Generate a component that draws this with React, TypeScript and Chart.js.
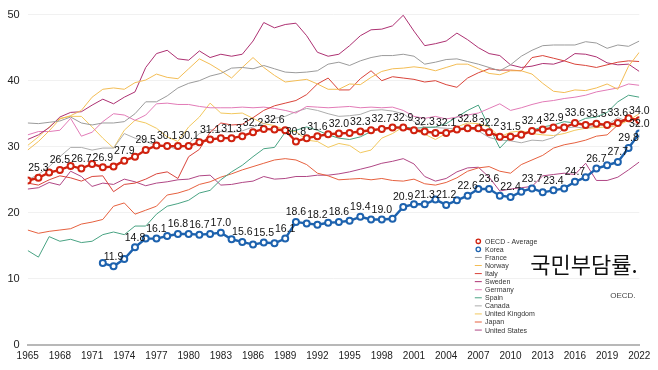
import React, { useEffect, useRef } from 'react';
import { Chart, registerables } from 'chart.js';

Chart.register(...registerables);

// ---- data (tax revenue as % of GDP), 1965..2022 ----
const years: number[] = Array.from({ length: 58 }, (_, i) => 1965 + i);
const xTickYears = [1965, 1968, 1971, 1974, 1977, 1980, 1983, 1986, 1989, 1992, 1995, 1998, 2001, 2004, 2007, 2010, 2013, 2016, 2019, 2022];
const yTickValues = [0, 10, 20, 30, 40, 50];

const oecdAvg = [24.9, 25.3, 26.1, 26.5, 27.1, 26.7, 27.4, 26.9, 27.0, 27.9, 28.5, 29.5, 30.2, 30.1, 30.1, 30.1, 30.7, 31.1, 31.3, 31.3, 31.6, 32.2, 32.7, 32.6, 32.5, 30.8, 31.3, 31.6, 31.9, 32.0, 32.1, 32.3, 32.5, 32.7, 32.9, 32.9, 32.5, 32.3, 32.1, 32.1, 32.6, 32.8, 32.8, 32.2, 31.5, 31.5, 31.8, 32.4, 32.6, 32.9, 32.9, 33.6, 33.3, 33.5, 33.3, 33.6, 34.3, 34.0];
const korea = [null, null, null, null, null, null, null, 12.4, 11.9, 13.0, 14.8, 16.1, 16.1, 16.5, 16.8, 16.8, 16.7, 16.8, 17.0, 16.0, 15.6, 15.2, 15.5, 15.4, 16.1, 18.6, 18.4, 18.2, 18.5, 18.6, 18.8, 19.4, 19.0, 19.0, 19.1, 20.9, 21.3, 21.3, 22.0, 21.2, 21.9, 22.6, 23.6, 23.6, 22.6, 22.4, 23.2, 23.7, 23.1, 23.4, 23.7, 24.7, 25.4, 26.7, 27.2, 27.7, 29.8, 32.0];
const france = [33.6, 33.5, 33.7, 33.9, 34.5, 33.6, 33.3, 33.6, 33.6, 33.8, 35.0, 36.8, 36.8, 37.7, 38.9, 39.6, 40.0, 40.7, 41.1, 41.9, 42.0, 41.8, 42.3, 41.8, 41.3, 41.2, 41.3, 41.5, 42.5, 42.8, 42.3, 43.0, 43.5, 43.8, 43.8, 44.0, 43.7, 42.5, 42.8, 43.2, 43.3, 42.9, 42.5, 42.0, 41.5, 42.4, 43.7, 44.6, 45.3, 45.4, 45.4, 45.4, 45.9, 45.7, 44.9, 45.4, 45.2, 46.0];
const norway = [29.5, 30.8, 32.4, 34.2, 34.7, 35.5, 37.5, 38.7, 38.9, 38.7, 39.7, 40.1, 41.0, 40.5, 40.3, 41.8, 43.3, 42.5, 41.5, 40.4, 42.0, 43.5, 42.0, 40.8, 39.8, 40.0, 40.2, 39.5, 38.7, 38.7, 39.5, 39.4, 40.5, 41.4, 41.8, 41.9, 42.1, 41.9, 41.5, 42.0, 42.5, 42.5, 41.8, 41.1, 40.9, 41.5, 41.5, 41.0, 39.6, 38.4, 38.2, 38.6, 38.5, 38.9, 39.5, 38.7, 42.2, 44.3];
const italy = [24.5, 24.2, 25.0, 25.6, 25.3, 24.8, 25.5, 25.6, 23.2, 24.3, 24.5, 25.1, 25.9, 26.2, 25.2, 28.5, 29.6, 32.2, 33.6, 33.3, 33.4, 34.4, 35.5, 36.2, 36.6, 37.0, 37.9, 39.5, 40.4, 38.6, 38.6, 40.3, 41.5, 40.0, 40.6, 40.4, 40.2, 39.8, 40.0, 39.4, 39.0, 40.4, 41.2, 41.8, 41.6, 41.6, 41.5, 43.5, 43.8, 43.4, 43.0, 42.5, 42.3, 42.0, 42.4, 42.8, 43.0, 42.9];
const sweden = [31.1, 31.8, 32.9, 34.5, 35.2, 35.3, 36.3, 37.2, 36.5, 37.5, 38.3, 42.0, 44.1, 44.6, 43.3, 43.1, 44.5, 43.5, 44.0, 43.7, 44.0, 46.0, 48.8, 48.0, 48.5, 48.7, 46.8, 44.3, 43.7, 44.0, 45.3, 46.8, 47.7, 47.8, 48.3, 49.9, 47.5, 45.3, 45.6, 46.0, 47.2, 46.2, 45.0, 44.1, 43.8, 42.4, 42.0, 42.2, 42.6, 42.5, 43.0, 44.1, 44.0, 43.6, 42.7, 42.4, 42.5, 41.4];
const germany = [31.8, 32.3, 32.3, 32.5, 34.3, 31.6, 32.2, 33.8, 35.0, 34.8, 34.0, 34.8, 36.5, 36.6, 36.4, 36.4, 36.1, 35.9, 35.9, 35.9, 36.0, 35.9, 36.0, 35.8, 35.5, 35.1, 36.1, 36.0, 35.9, 36.0, 36.1, 35.9, 36.0, 35.9, 36.0, 35.5, 34.6, 34.3, 34.6, 34.2, 34.5, 34.8, 35.1, 35.8, 36.5, 35.5, 35.9, 36.4, 36.8, 37.0, 37.3, 37.5, 37.8, 38.3, 38.6, 38.9, 39.5, 39.3];
const spain = [14.3, 13.3, 16.4, 15.7, 16.0, 15.5, 15.7, 16.7, 17.1, 16.7, 18.0, 18.0, 19.8, 21.0, 21.4, 21.9, 23.0, 23.4, 25.0, 26.2, 27.2, 28.5, 29.7, 29.9, 32.2, 32.5, 33.0, 32.5, 31.8, 31.3, 31.1, 31.5, 32.3, 32.8, 33.0, 33.0, 32.8, 32.9, 33.0, 33.5, 34.5, 35.5, 36.3, 33.0, 29.8, 31.5, 31.8, 32.5, 33.0, 33.3, 33.8, 33.6, 34.3, 34.5, 35.2, 36.8, 37.8, 37.5];
const canada = [25.0, 25.8, 27.0, 28.5, 29.9, 29.9, 29.5, 29.8, 29.8, 32.0, 31.3, 30.8, 30.2, 30.1, 29.6, 30.5, 32.0, 32.6, 32.3, 32.2, 32.4, 33.0, 33.5, 34.3, 34.6, 35.3, 35.8, 35.5, 35.0, 34.6, 34.7, 34.9, 35.5, 35.6, 35.4, 35.0, 33.8, 33.0, 32.9, 32.8, 32.7, 32.9, 32.4, 31.4, 31.0, 30.9, 30.6, 31.0, 30.9, 31.4, 32.8, 33.0, 32.8, 33.2, 33.3, 34.4, 33.8, 33.2];
const uk = [30.2, 31.5, 33.0, 34.3, 34.6, 34.6, 33.0, 31.3, 29.8, 32.5, 34.0, 33.6, 32.8, 31.5, 30.8, 33.0, 34.5, 36.6, 35.1, 35.0, 35.1, 34.3, 33.5, 33.2, 32.5, 32.3, 31.0, 30.8, 29.9, 30.5, 30.2, 29.1, 29.5, 31.3, 32.0, 33.0, 32.5, 31.9, 31.1, 32.0, 33.0, 33.6, 33.5, 33.0, 31.5, 32.2, 32.4, 32.0, 31.8, 31.7, 32.0, 32.5, 32.8, 32.9, 33.0, 33.2, 34.0, 35.0];
const japan = [17.4, 16.9, 17.2, 17.4, 17.6, 18.3, 18.6, 19.0, 21.0, 21.5, 19.8, 20.4, 21.0, 22.7, 23.0, 23.5, 24.3, 24.7, 25.4, 25.9, 26.5, 27.0, 27.5, 28.0, 28.2, 28.0, 27.3, 26.0, 25.6, 25.0, 25.1, 25.2, 25.0, 25.2, 24.9, 24.8, 25.1, 24.4, 24.2, 24.6, 25.3, 26.3, 26.8, 27.0, 26.3, 26.0, 27.3, 28.0, 28.7, 29.8, 30.3, 30.6, 31.0, 31.6, 31.8, 33.3, 34.2, 34.3];
const us = [23.6, 23.8, 24.6, 24.2, 26.3, 25.5, 24.0, 24.5, 24.3, 25.1, 24.7, 24.1, 24.5, 24.7, 25.0, 25.1, 25.6, 25.7, 24.2, 24.3, 24.6, 24.8, 25.5, 25.1, 25.2, 25.5, 25.5, 25.7, 25.7, 25.9, 26.2, 26.6, 27.0, 27.5, 27.8, 28.2, 27.4, 25.5, 24.8, 25.2, 26.2, 26.8, 26.9, 25.4, 23.3, 23.6, 23.8, 24.0, 25.6, 25.8, 26.0, 25.8, 27.5, 24.9, 24.9, 25.4, 26.5, 27.7];

const seriesNames = ['OECD - Average', 'Korea', 'France', 'Norway', 'Italy', 'Sweden', 'Germany', 'Spain', 'Canada', 'United Kingdom', 'Japan', 'United States'];
const seriesValues = [oecdAvg, korea, france, norway, italy, sweden, germany, spain, canada, uk, japan, us];
const seriesColors = ['#d0220f', '#1d62ae', '#9b9b9b', '#f3bd55', '#d9443a', '#ad3172', '#e27bb7', '#49a383', '#adadad', '#f2c85e', '#e6613f', '#b04785'];

const titleText = '국민부담률.';
const sourceText = 'OECD.';

const FONT = '"Liberation Sans", Arial, Helvetica, sans-serif';

const pointLabelPlugin = {
  id: 'pointLabels',
  afterDatasetsDraw(chart: any) {
    const ctx = chart.ctx;
    ctx.save();
    ctx.font = `10.5px ${FONT}`;
    ctx.textAlign = 'center';
    ctx.textBaseline = 'middle';
    ctx.fillStyle = '#111';
    const placed: { x1: number; x2: number; y1: number; y2: number }[] = [];
    [0, 1].forEach((di) => {
      const meta = chart.getDatasetMeta(di);
      const vals = seriesValues[di];
      for (let i = meta.data.length - 1; i >= 0; i--) {
        const v = vals[i];
        if (v == null) continue;
        const pt = meta.data[i];
        const text = (v as number).toFixed(1);
        const w = ctx.measureText(text).width;
        const cx = pt.x;
        const cy = pt.y - 9.5;
        const box = { x1: cx - w / 2, x2: cx + w / 2, y1: cy - 6.3, y2: cy + 6.3 };
        if (placed.some((b) => b.x1 < box.x2 && box.x1 < b.x2 && b.y1 < box.y2 && box.y1 < b.y2)) continue;
        placed.push(box);
        ctx.fillText(text, cx, cy);
      }
    });
    ctx.restore();
  },
};

const legendPlugin = {
  id: 'customLegend',
  afterDraw(chart: any) {
    const ctx = chart.ctx;
    ctx.save();
    const x0 = 478.3;
    const y0 = 241.3;
    const step = 8.07;
    ctx.font = `7px ${FONT}`;
    ctx.textAlign = 'left';
    ctx.textBaseline = 'middle';
    seriesNames.forEach((name, i) => {
      const y = y0 + i * step;
      ctx.strokeStyle = seriesColors[i];
      if (i < 2) {
        ctx.lineWidth = 1.3;
        ctx.fillStyle = '#fff';
        ctx.beginPath();
        ctx.arc(x0, y, 2.2, 0, Math.PI * 2);
        ctx.fill();
        ctx.stroke();
      } else {
        ctx.lineWidth = 1;
        ctx.beginPath();
        ctx.moveTo(x0 - 3.5, y);
        ctx.lineTo(x0 + 3.5, y);
        ctx.stroke();
      }
      ctx.fillStyle = '#333';
      ctx.fillText(name, 485, y + 0.5);
    });
    ctx.textAlign = 'right';
    ctx.fillStyle = '#111';
    ctx.font = `22px "Noto Sans CJK KR", sans-serif`;
    ctx.fillText(titleText, 637.5, 265);
    ctx.fillStyle = '#444';
    ctx.font = `8px ${FONT}`;
    ctx.fillText(sourceText, 635.5, 296);
    ctx.restore();
  },
};

export default function App() {
  const canvasRef = useRef<HTMLCanvasElement | null>(null);

  useEffect(() => {
    if (!canvasRef.current) return;
    const datasets = seriesNames.map((name, si) => {
      const main = si < 2;
      return {
        label: name,
        data: years.map((yr, i) => ({ x: yr, y: seriesValues[si][i] })),
        borderColor: seriesColors[si],
        backgroundColor: seriesColors[si],
        borderWidth: main ? 2.4 : 1,
        pointRadius: main ? 3 : 0,
        pointBorderWidth: main ? 2 : 0,
        pointBackgroundColor: '#ffffff',
        pointBorderColor: seriesColors[si],
        tension: 0,
        spanGaps: false,
      };
    });
    const chart = new Chart(canvasRef.current, {
      type: 'line',
      data: { datasets } as any,
      options: {
        animation: false,
        responsive: true,
        maintainAspectRatio: false,
        layout: { padding: { top: 12, right: 18.7, bottom: 0, left: 0 } },
        plugins: { legend: { display: false }, tooltip: { enabled: false } },
        scales: {
          x: {
            type: 'linear',
            min: 1965,
            max: 2022,
            afterBuildTicks: (s: any) => {
              s.ticks = xTickYears.map((v) => ({ value: v }));
            },
            afterFit: (s: any) => {
              s.height = 25;
            },
            ticks: {
              callback: (v: any) => String(v),
              font: { family: FONT, size: 10 },
              color: '#222',
              padding: 5,
              maxRotation: 0,
              autoSkip: false,
            },
            grid: { display: false, drawTicks: false },
            border: { display: true, color: '#b8b8b8', width: 2 },
          },
          y: {
            min: 0,
            max: 50,
            afterBuildTicks: (s: any) => {
              s.ticks = yTickValues.map((v) => ({ value: v }));
            },
            afterFit: (s: any) => {
              s.width = 27.7;
            },
            ticks: {
              font: { family: FONT, size: 11 },
              color: '#222',
              padding: 8,
            },
            grid: { color: '#f1f1f1', lineWidth: 1, drawTicks: false },
            border: { display: false },
          },
        },
      },
      plugins: [pointLabelPlugin, legendPlugin],
    } as any);
    return () => chart.destroy();
  }, []);

  return (
    <div style={{ position: 'absolute', left: 0, top: 0, width: 658, height: 370, background: '#fff' }}>
      <canvas ref={canvasRef} />
    </div>
  );
}
